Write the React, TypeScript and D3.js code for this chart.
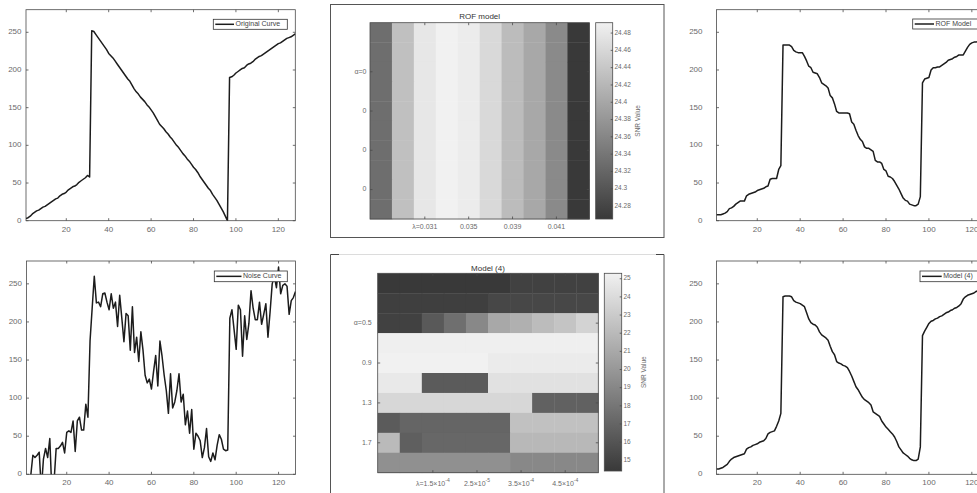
import React from 'react';
import * as d3 from 'd3';

// ---------- DATA ----------
const originalCurve = [
  3,4,6,9,11,13,14,16,18,19,21,23,25,27,29,30,33,35,36,38,41,43,45,46,48,51,53,55,57,60,58,
  252,251,247,243,239,235,231,227,222,219,216,212,208,204,200,196,192,188,185,180,
  175,171,168,164,161,158,154,151,147,143,138,133,128,125,122,118,115,111,108,104,
  100,97,93,89,86,82,79,75,71,68,64,59,55,51,47,43,40,35,31,27,22,17,12,6,0,
  190,191,193,196,198,200,202,203,206,208,209,211,214,216,218,219,221,223,225,227,
  229,231,233,235,236,238,240,242,243,244,246,248,
];
const noiseCurve = [
  -20,-15,-2,25,22,25,29,-20,20,34,22,47,-25,-10,34,34,37,42,28,55,57,55,70,30,70,75,58,58,92,75,175,218,
  260,225,226,220,237,238,226,216,237,218,226,194,235,205,174,211,208,163,220,160,
  180,148,187,163,130,120,125,112,135,156,116,175,155,130,110,80,132,87,95,110,
  132,95,105,65,83,54,85,33,54,50,44,22,35,60,23,17,28,19,38,52,46,33,31,32,
  205,216,190,164,222,216,155,208,177,198,241,218,203,203,226,197,210,224,180,213,
  250,260,245,272,237,248,250,247,210,228,232,240,
];
const rofCurve = [
  8,8,8,9,10,12,16,17,19,22,24,26,26,26,33,35,36,37,38,40,
  41,42,43,45,46,55,56,56,56,68,73,
  233,233,233,233,231,226,224,223,223,223,218,212,205,203,197,196,195,190,183,181,
  179,176,166,163,155,145,143,143,143,143,143,142,131,128,120,113,108,105,98,96,
  96,94,92,80,78,78,76,68,66,59,58,56,52,47,42,36,30,27,26,22,21,20,20,22,32,
  183,188,189,190,200,203,203,204,204,206,208,210,213,214,215,217,218,220,220,220,
  225,230,234,236,237,237,238,241,242,242,243,243,
];
const model4Curve = [
  7,7,8,9,11,13,17,20,22,23,24,25,26,27,33,35,36,38,39,40,
  42,43,44,47,53,55,56,57,63,70,80,
  233,234,234,234,233,228,226,225,224,222,220,212,204,199,197,196,193,187,183,181,
  179,176,168,161,157,148,146,145,143,142,140,135,129,122,115,111,106,101,98,96,
  94,91,82,80,78,76,70,66,62,59,56,53,49,43,36,32,28,26,24,21,19,18,18,20,36,
  182,188,193,198,201,202,204,205,207,208,210,212,213,215,216,218,219,221,224,230,
  233,235,236,237,238,240,241,242,243,244,245,246,
];

const xTickValues = [20, 40, 60, 80, 100, 120];
const yTickValues = [0, 50, 100, 150, 200, 250];

const rofSNR = [
  [24.330,24.432,24.480,24.492,24.486,24.462,24.426,24.402,24.365,24.265],
  [24.330,24.432,24.480,24.492,24.486,24.462,24.426,24.402,24.365,24.265],
  [24.330,24.432,24.480,24.492,24.486,24.462,24.426,24.402,24.365,24.265],
  [24.330,24.432,24.480,24.492,24.486,24.462,24.426,24.402,24.365,24.265],
  [24.330,24.432,24.480,24.492,24.486,24.462,24.426,24.402,24.365,24.265],
  [24.330,24.432,24.480,24.492,24.486,24.462,24.426,24.402,24.365,24.265],
  [24.330,24.432,24.480,24.492,24.486,24.462,24.426,24.402,24.365,24.265],
  [24.330,24.432,24.480,24.492,24.486,24.462,24.426,24.402,24.365,24.265],
  [24.330,24.432,24.480,24.492,24.486,24.462,24.426,24.402,24.365,24.265],
  [24.330,24.432,24.480,24.492,24.486,24.462,24.426,24.402,24.365,24.265],
];
const rofSNRRange = [24.265, 24.492];
const rofCbTicks = [24.28,24.3,24.32,24.34,24.36,24.38,24.4,24.42,24.44,24.46,24.48];
const rofXLabels = ['λ=0.031', '0.035', '0.039', '0.041'];
const rofYLabels = ['α=0', '0', '0', '0'];

const model4SNR = [
  [14.42,14.42,14.42,14.42,14.42,14.42,14.9,14.9,14.9,14.9],
  [14.76,14.76,14.76,14.76,14.76,15.24,15.24,15.24,15.24,15.24],
  [14.88,14.88,16.32,17.63,19.07,20.99,21.47,22.19,22.66,23.5],
  [25.2,25.2,25.2,25.2,25.2,25.2,25.2,25.2,25.2,25.2],
  [25.3,25.3,25.3,25.3,25.3,24.94,24.94,24.94,24.94,24.94],
  [24.82,24.82,16.44,16.44,16.44,24.34,24.34,24.34,24.34,24.34],
  [23.74,23.74,23.74,23.74,23.74,23.74,23.74,16.8,16.8,16.8],
  [16.44,17.04,17.04,17.04,17.04,17.04,22.43,22.43,22.43,22.43],
  [22.07,16.68,17.16,17.16,17.16,17.16,21.95,21.95,21.95,21.95],
  [19.55,19.55,19.55,19.55,19.55,19.55,19.07,19.07,19.07,19.07],
];
const model4SNRRange = [14.41, 25.3];
const model4CbTicks = [15,16,17,18,19,20,21,22,23,24,25];
const model4XLabels = [['λ=1.5×10', '-4'], ['2.5×10', '-5'], ['3.5×10', '-4'], ['4.5×10', '-4']];
const model4YLabels = ['α=0.5', '0.9', '1.3', '1.7'];

const tickIndex = [2, 4, 6, 8]; // 0-based row/col indices carrying labels

// ---------- STYLE ----------
const FONT = '"Liberation Sans", Arial, Helvetica, sans-serif';
const AXIS = '#4a4a4a';
const LABEL = '#6a6a6a';
const CMIN = '#393939';
const CMAX = '#f1f1f1';

function LinePanel({ data, x0, x1, yTop, yBottom, legend, lx0, lx1, ly0, ly1, lineEnd, labelGap, id }) {
  const xs = d3.scaleLinear().domain([1, 128]).range([x0, x1]);
  const ys = d3.scaleLinear().domain([0, 280]).range([yBottom, yTop]);
  const line = d3.line<number>().x((_, i) => xs(i + 1)).y((d) => ys(d));
  const tl = 2.5;
  return (
    <g>
      <defs>
        <clipPath id={id}>
          <rect x={x0} y={yTop} width={x1 - x0} height={yBottom - yTop} />
        </clipPath>
      </defs>
      <rect x={x0} y={yTop} width={x1 - x0} height={yBottom - yTop} fill="#fff" stroke={AXIS} strokeWidth={0.8} />
      {xTickValues.map((t) => (
        <g key={'x' + t}>
          <line x1={xs(t)} x2={xs(t)} y1={yBottom} y2={yBottom - tl} stroke={AXIS} strokeWidth={0.8} />
          <line x1={xs(t)} x2={xs(t)} y1={yTop} y2={yTop + tl} stroke={AXIS} strokeWidth={0.8} />
          <text x={xs(t)} y={yBottom + 9} fontSize={8} fill={LABEL} textAnchor="middle" dominantBaseline="middle" fontFamily={FONT}>{t}</text>
        </g>
      ))}
      {yTickValues.map((t) => (
        <g key={'y' + t}>
          <line x1={x0} x2={x0 + tl} y1={ys(t)} y2={ys(t)} stroke={AXIS} strokeWidth={0.8} />
          <line x1={x1} x2={x1 - tl} y1={ys(t)} y2={ys(t)} stroke={AXIS} strokeWidth={0.8} />
          <text x={x0 - labelGap} y={ys(t)} fontSize={8} fill={LABEL} textAnchor="end" dominantBaseline="middle" fontFamily={FONT}>{t}</text>
        </g>
      ))}
      <path d={line(data) || ''} fill="none" stroke="#1c1c1c" strokeWidth={1.5} strokeLinejoin="round" clipPath={`url(#${id})`} />
      <rect x={lx0} y={ly0} width={lx1 - lx0} height={ly1 - ly0} fill="#fff" stroke="#333" strokeWidth={0.8} />
      <line x1={lx0 + 2} x2={lineEnd} y1={(ly0 + ly1) / 2} y2={(ly0 + ly1) / 2} stroke="#1c1c1c" strokeWidth={1.5} />
      <text x={lineEnd + 1.5} y={(ly0 + ly1) / 2 + 0.3} fontSize={7} fill="#444" dominantBaseline="middle" fontFamily={FONT}>{legend}</text>
    </g>
  );
}

function Heatmap({ values, range, x0, x1, y0, y1, cbx0, cbx1, cby0, cby1, cbTicks, xLabels, yLabels, title, titleY, yLabelGap, xLabelY, cbLabelX, snrX, id }) {
  const nRows = values.length;
  const nCols = values[0].length;
  const xb = d3.scaleBand<number>().domain(d3.range(nCols)).range([x0, x1]);
  const yb = d3.scaleBand<number>().domain(d3.range(nRows)).range([y0, y1]);
  const color = d3.scaleLinear<string>().domain(range).range([CMIN, CMAX]);
  const cbScale = d3.scaleLinear().domain(range).range([cby1, cby0]);
  const tl = 2.5;
  const fmt = (v: number) => String(+v.toFixed(2));
  return (
    <g fontFamily={FONT}>
      <defs>
        <linearGradient id={id} x1="0" y1="1" x2="0" y2="0">
          <stop offset="0%" stopColor={CMIN} />
          <stop offset="100%" stopColor={CMAX} />
        </linearGradient>
      </defs>
      {values.map((row, r) =>
        row.map((v, c) => (
          <rect key={r + '-' + c} x={xb(c)} y={yb(r)} width={xb.bandwidth() + 0.4} height={yb.bandwidth() + 0.4} fill={color(v)} />
        ))
      )}
      <rect x={x0} y={y0} width={x1 - x0} height={y1 - y0} fill="none" stroke={AXIS} strokeWidth={0.8} />
      {tickIndex.map((c, i) => {
        const cx = (xb(c) as number) + xb.bandwidth() / 2;
        const lab = xLabels[i];
        return (
          <g key={'xt' + i}>
            <line x1={cx} x2={cx} y1={y1} y2={y1 - tl} stroke={AXIS} strokeWidth={0.8} />
            <line x1={cx} x2={cx} y1={y0} y2={y0 + tl} stroke={AXIS} strokeWidth={0.8} />
            {typeof lab === 'string' ? (
              <text x={cx} y={xLabelY} fontSize={7} fill={LABEL} textAnchor="middle" dominantBaseline="middle">{lab}</text>
            ) : (
              <text x={cx} y={xLabelY} fontSize={7} fill={LABEL} textAnchor="middle" dominantBaseline="middle">
                {lab[0]}
                <tspan fontSize={5} dy={-3}>{lab[1]}</tspan>
              </text>
            )}
          </g>
        );
      })}
      {tickIndex.map((r, i) => {
        const cy = (yb(r) as number) + yb.bandwidth() / 2;
        return (
          <g key={'yt' + i}>
            <line x1={x0} x2={x0 + tl} y1={cy} y2={cy} stroke={AXIS} strokeWidth={0.8} />
            <line x1={x1} x2={x1 - tl} y1={cy} y2={cy} stroke={AXIS} strokeWidth={0.8} />
            <text x={x0 - yLabelGap} y={cy} fontSize={7} fill={LABEL} textAnchor="end" dominantBaseline="middle">{yLabels[i]}</text>
          </g>
        );
      })}
      <text x={(x0 + x1) / 2} y={titleY} fontSize={8} fill="#333" textAnchor="middle" dominantBaseline="middle">{title}</text>
      <rect x={cbx0} y={cby0} width={cbx1 - cbx0} height={cby1 - cby0} fill={`url(#${id})`} stroke={AXIS} strokeWidth={0.8} />
      {cbTicks.map((t) => (
        <g key={'cb' + t}>
          <line x1={cbx1} x2={cbx1 - 2} y1={cbScale(t)} y2={cbScale(t)} stroke={AXIS} strokeWidth={0.8} />
          <text x={cbLabelX} y={cbScale(t)} fontSize={6.5} fill={LABEL} dominantBaseline="middle">{fmt(t)}</text>
        </g>
      ))}
      <text x={snrX} y={(cby0 + cby1) / 2} fontSize={6.5} fill={LABEL} textAnchor="middle" dominantBaseline="middle" transform={`rotate(-90 ${snrX} ${(cby0 + cby1) / 2})`}>SNR Value</text>
    </g>
  );
}

export default function App() {
  return (
    <svg width={977} height={493} style={{ position: 'absolute', left: 0, top: 0, background: '#fff' }}>
      <rect x={0} y={0} width={977} height={493} fill="#fff" />
      {/* left column */}
      <LinePanel id="c1" data={originalCurve} x0={26} x1={295.3} yTop={9.7} yBottom={220.7} legend="Original Curve" lx0={213.3} lx1={287.3} ly0={19.3} ly1={29.3} lineEnd={234} labelGap={4.5} />
      <LinePanel id="c4" data={noiseCurve} x0={26.5} x1={295.5} yTop={261} yBottom={474.3} legend="Noise Curve" lx0={214.3} lx1={287.3} ly0={271} ly1={281.7} lineEnd={241.5} labelGap={4.5} />
      {/* right column */}
      <LinePanel id="c3" data={rofCurve} x0={716.5} x1={989} yTop={9.7} yBottom={220.7} legend="ROF Model" lx0={912.7} lx1={990} ly0={19} ly1={29} lineEnd={934} labelGap={14} />
      <LinePanel id="c6" data={model4Curve} x0={716.5} x1={989} yTop={261} yBottom={474.3} legend="Model (4)" lx0={920} lx1={990} ly0={271} ly1={281.7} lineEnd={941.7} labelGap={14} />
      {/* middle frames */}
      <rect x={330.5} y={4.5} width={333.5} height={233} fill="none" stroke="#555" strokeWidth={1} />
      <line x1={331} x2={664} y1={254.5} y2={254.5} stroke="#dcdcdc" strokeWidth={1} />
      <line x1={330.5} x2={339} y1={254.5} y2={254.5} stroke="#444" strokeWidth={1} />
      <line x1={656} x2={664} y1={254.5} y2={254.5} stroke="#444" strokeWidth={1} />
      <line x1={330.5} x2={330.5} y1={254.5} y2={493} stroke="#555" strokeWidth={1} />
      <line x1={664} x2={664} y1={254.5} y2={493} stroke="#555" strokeWidth={1} />
      <Heatmap id="g1" values={rofSNR} range={rofSNRRange} x0={370} x1={589.3} y0={22.7} y1={219} cbx0={595.7} cbx1={612.7} cby0={22.7} cby1={219} cbTicks={rofCbTicks} xLabels={rofXLabels} yLabels={rofYLabels} title="ROF model" titleY={17} yLabelGap={3.5} xLabelY={227.3} cbLabelX={614.5} snrX={638.5} />
      <Heatmap id="g2" values={model4SNR} range={model4SNRRange} x0={377.7} x1={598.3} y0={273.3} y1={472.7} cbx0={604.3} cbx1={621.7} cby0={273.3} cby1={471} cbTicks={model4CbTicks} xLabels={model4XLabels} yLabels={model4YLabels} title="Model (4)" titleY={268.5} yLabelGap={6} xLabelY={484} cbLabelX={623.5} snrX={644} />
    </svg>
  );
}
